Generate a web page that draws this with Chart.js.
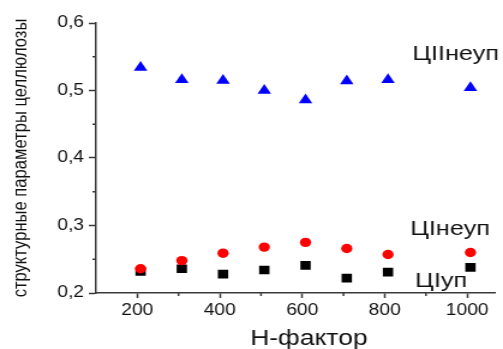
<!DOCTYPE html>
<html>
<head>
<meta charset="utf-8">
<script src="https://cdn.jsdelivr.net/npm/chart.js@4.4.0/dist/chart.umd.min.js"></script>
<style>
  html, body { margin: 0; padding: 0; background: #fff; overflow: hidden; }
  /* canvas is drawn narrow and stretched sideways, like the wide Origin text */
  #wrap { width: 419px; height: 349px; transform: scaleX(1.2005); transform-origin: 0 0; }
</style>
</head>
<body>
<div id="wrap"><canvas id="chart" width="419" height="349"></canvas></div>
<script>
const hFactor = [208, 308, 408, 508, 608, 708, 808, 1008];
const cIINeup = [0.534, 0.516, 0.515, 0.500, 0.486, 0.514, 0.516, 0.504];
const cINeup  = [0.236, 0.248, 0.259, 0.268, 0.275, 0.266, 0.257, 0.260];
const cIUp    = [0.232, 0.236, 0.228, 0.234, 0.241, 0.222, 0.231, 0.238];

const xTicks = [200, 400, 600, 800, 1000];
const xMinorTicks = [300, 500, 700, 900];
const yTicks = [0.2, 0.3, 0.4, 0.5, 0.6];
const yMinorTicks = [0.25, 0.35, 0.45, 0.55];

const xTitle = 'H-фактор';
const yTitle = 'структурные параметры целлюлозы';
const seriesNames = ['ЦIIнеуп', 'ЦIнеуп', 'ЦIуп'];
// where each series name sits, in axis units (left edge, baseline)
const namePlaces = [
    { x: 867, y: 0.545 },
    { x: 862, y: 0.2865 },
    { x: 874, y: 0.209 }
];

const FONT = "Arial, 'Liberation Sans', sans-serif";
const AXIS_COLOR = '#3a3a3a';

const toPoints = (ys) => hFactor.map((x, i) => ({ x: x, y: ys[i] }));

const extras = {
    id: 'extras',
    afterDraw(chart) {
        const { ctx, scales: { x, y } } = chart;
        ctx.save();
        ctx.strokeStyle = AXIS_COLOR;
        ctx.lineWidth = 1.5;
        ctx.beginPath();
        xMinorTicks.forEach(v => {
            const px = x.getPixelForValue(v);
            ctx.moveTo(px, x.top);
            ctx.lineTo(px, x.top + 3);
        });
        yMinorTicks.forEach(v => {
            const py = y.getPixelForValue(v);
            ctx.moveTo(y.right, py);
            ctx.lineTo(y.right - 3, py);
        });
        ctx.stroke();

        ctx.fillStyle = '#111';
        ctx.font = '21px ' + FONT;
        ctx.textAlign = 'left';
        ctx.textBaseline = 'alphabetic';
        seriesNames.forEach((name, i) => {
            const p = namePlaces[i];
            ctx.fillText(name, x.getPixelForValue(p.x), y.getPixelForValue(p.y));
        });

        // x axis title, set a little right of the plot centre
        ctx.font = '22px ' + FONT;
        ctx.textAlign = 'center';
        ctx.fillText(xTitle, (x.left + x.right) / 2 + 11, chart.height - 4);
        ctx.restore();
    }
};

const ctx = document.getElementById('chart').getContext('2d');
new Chart(ctx, {
    type: 'scatter',
    data: {
        datasets: [
            {
                label: seriesNames[0],
                data: toPoints(cIINeup),
                pointStyle: 'triangle',
                pointRadius: 6.5,
                backgroundColor: '#0000ff',
                borderWidth: 0
            },
            {
                label: seriesNames[1],
                data: toPoints(cINeup),
                pointStyle: 'circle',
                pointRadius: 4.7,
                backgroundColor: '#ff0000',
                borderWidth: 0
            },
            {
                label: seriesNames[2],
                data: toPoints(cIUp),
                pointStyle: 'rect',
                pointRadius: 6.1,
                backgroundColor: '#000000',
                borderWidth: 0
            }
        ]
    },
    options: {
        responsive: false,
        animation: false,
        layout: { padding: { top: 23, right: 0, bottom: 0, left: 0 } },
        plugins: {
            legend: { display: false },
            tooltip: { enabled: false }
        },
        scales: {
            x: {
                type: 'linear',
                min: 100,
                max: 1068,
                afterBuildTicks: (s) => { s.ticks = xTicks.map(v => ({ value: v })); },
                afterFit: (s) => { s.height = 56; },
                grid: { drawOnChartArea: false, tickLength: 5, tickColor: AXIS_COLOR, tickWidth: 1.5 },
                border: { color: AXIS_COLOR, width: 1.5 },
                ticks: {
                    padding: 3,
                    color: '#111',
                    font: { family: FONT, size: 16 },
                    callback: (v) => String(v)
                }
            },
            y: {
                min: 0.2,
                max: 0.6,
                afterBuildTicks: (s) => { s.ticks = yTicks.map(v => ({ value: v })); },
                afterFit: (s) => { s.width = 80; },
                grid: { drawOnChartArea: false, tickLength: 6, tickColor: AXIS_COLOR, tickWidth: 1.5 },
                border: { color: AXIS_COLOR, width: 1.5 },
                ticks: {
                    padding: 4,
                    color: '#111',
                    font: { family: FONT, size: 16 },
                    callback: (v) => v.toFixed(1).replace('.', ',')
                },
                title: {
                    display: true,
                    text: yTitle,
                    color: '#111',
                    padding: { top: 7, bottom: 0 },
                    font: { family: FONT, size: 16.6 }
                }
            }
        }
    },
    plugins: [extras]
});
</script>
</body>
</html>
